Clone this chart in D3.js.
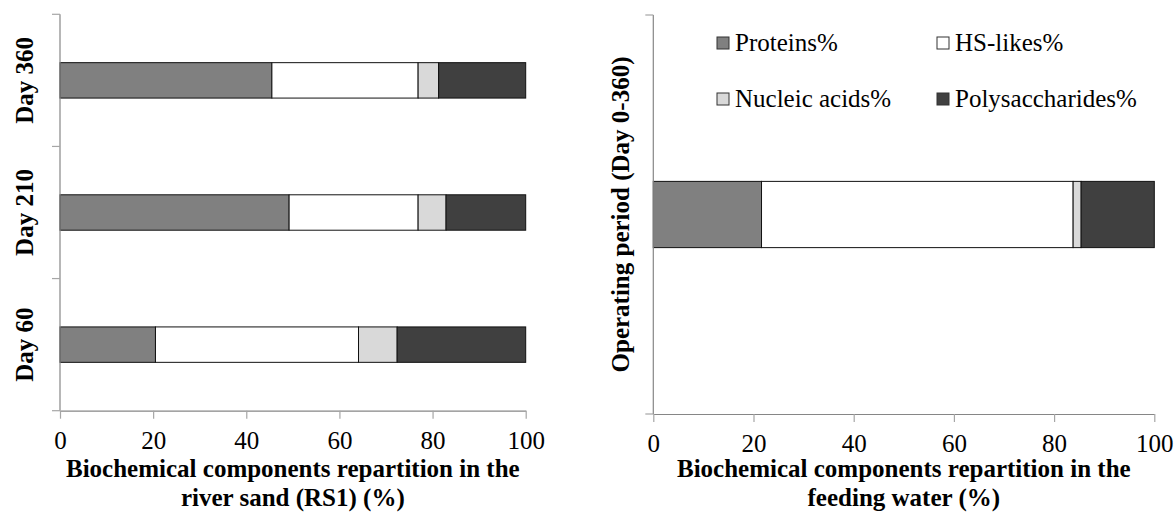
<!DOCTYPE html>
<html>
<head>
<meta charset="utf-8">
<script src="https://cdn.jsdelivr.net/npm/d3@7"></script>
<style>
  html, body { margin: 0; padding: 0; background: #fff; }
  svg { display: block; }
</style>
</head>
<body>
<svg id="chart" width="1176" height="514"></svg>
<script>
// ---- data ----
const seriesNames = ["Proteins%", "HS-likes%", "Nucleic acids%", "Polysaccharides%"];
const categoriesRS = ["Day 360", "Day 210", "Day 60"];
const proteinsRS = [45.5, 49.2, 20.5];
const hsRS = [31.4, 27.7, 43.6];
const nucleicRS = [4.4, 6.0, 8.3];
const polyRS = [18.7, 17.1, 27.6];

const categoriesFW = ["Day 0-360"];
const proteinsFW = [21.6];
const hsFW = [62.2];
const nucleicFW = [1.6];
const polyFW = [14.6];

const xTicks = [0, 20, 40, 60, 80, 100];

// ---- styles ----
const FONT = "'Times New Roman', 'Liberation Serif', 'DejaVu Serif', serif";
const FS = "25px";
const colors = ["#808080", "#ffffff", "#d9d9d9", "#404040"];
const axisColor = "#868686";
const tickColor = "#a6a6a6";

const svg = d3.select("#chart").attr("font-family", FONT);
const keys = seriesNames;

function buildRows(cats, p, h, n, s) {
  return cats.map((c, i) => ({ cat: c, "Proteins%": p[i], "HS-likes%": h[i], "Nucleic acids%": n[i], "Polysaccharides%": s[i] }));
}

function txt(sel) {
  return sel.style("font-family", FONT).style("font-size", FS).attr("fill", "#000");
}

function drawPanel(opts) {
  const { rows, cats, xRange, yRange, barFrac, titleLines, showCats, yTitle, yTitleX } = opts;
  const x = d3.scaleLinear().domain([0, 100]).range(xRange);
  const y = d3.scaleBand().domain(cats).range(yRange).padding(0);
  const bh = y.bandwidth() * barFrac;
  const stacked = d3.stack().keys(keys)(rows);
  const g = svg.append("g");

  // bars
  stacked.forEach((layer, li) => {
    g.append("g").selectAll("rect").data(layer).join("rect")
      .attr("x", d => x(d[0]))
      .attr("y", d => y(d.data.cat) + (y.bandwidth() - bh) / 2)
      .attr("width", d => x(d[1]) - x(d[0]))
      .attr("height", bh)
      .attr("fill", colors[li])
      .attr("stroke", "#111")
      .attr("stroke-width", 1);
  });

  // y axis line + boundary ticks
  const x0 = xRange[0];
  g.append("line").attr("x1", x0).attr("x2", x0)
    .attr("y1", yRange[0]).attr("y2", yRange[1])
    .attr("stroke", axisColor).attr("stroke-width", 1.2);
  const bounds = cats.map(c => y(c)).concat([y(cats[cats.length - 1]) + y.bandwidth()]);
  g.append("g").selectAll("line").data(bounds).join("line")
    .attr("x1", x0 - 8).attr("x2", x0)
    .attr("y1", d => d).attr("y2", d => d)
    .attr("stroke", tickColor).attr("stroke-width", 1.2);

  // x axis
  const ax = g.append("g")
    .attr("transform", `translate(0,${yRange[1]})`)
    .call(d3.axisBottom(x).tickValues(xTicks).tickSize(8).tickSizeOuter(0).tickFormat(d3.format("d")));
  ax.attr("font-family", FONT);
  ax.select(".domain").attr("stroke", axisColor).attr("stroke-width", 1.2);
  ax.selectAll(".tick line").attr("stroke", tickColor).attr("stroke-width", 1.2);
  txt(ax.selectAll(".tick text"))
    .attr("y", 38).attr("dy", null);

  // category labels
  if (showCats) {
    cats.forEach(c => {
      const cy = y(c) + y.bandwidth() / 2;
      txt(g.append("text"))
        .attr("transform", `translate(${33},${cy}) rotate(-90)`)
        .attr("text-anchor", "middle")
        .style("font-weight", "bold")
        .text(c);
    });
  }
  if (yTitle) {
    const cy = (yRange[0] + yRange[1]) / 2;
    txt(g.append("text"))
      .attr("transform", `translate(${yTitleX},${cy}) rotate(-90)`)
      .attr("text-anchor", "middle")
      .style("font-weight", "bold")
      .text(yTitle);
  }

  // x title
  const cx = (xRange[0] + xRange[1]) / 2;
  titleLines.forEach((t, i) => {
    txt(g.append("text"))
      .attr("x", cx).attr("y", 477 + i * 29)
      .attr("text-anchor", "middle")
      .style("font-weight", "bold")
      .text(t);
  });
}

drawPanel({
  rows: buildRows(categoriesRS, proteinsRS, hsRS, nucleicRS, polyRS),
  cats: categoriesRS,
  xRange: [60, 525.7],
  yRange: [14.3, 410.7],
  barFrac: 0.268,
  titleLines: ["Biochemical components repartition in the", "river sand (RS1) (%)"],
  showCats: true
});

drawPanel({
  rows: buildRows(categoriesFW, proteinsFW, hsFW, nucleicFW, polyFW),
  cats: categoriesFW,
  xRange: [653.3, 1154.3],
  yRange: [15, 414],
  barFrac: 0.166,
  titleLines: ["Biochemical components repartition in the", "feeding water (%)"],
  showCats: false,
  yTitle: "Operating period (Day 0-360)",
  yTitleX: 629
});

// legend
const legendPos = [
  { x: 717, y: 43 }, { x: 937, y: 43 },
  { x: 717, y: 99 }, { x: 937, y: 99 }
];
const leg = svg.append("g");
seriesNames.forEach((name, i) => {
  const p = legendPos[i];
  leg.append("rect")
    .attr("x", p.x).attr("y", p.y - 6)
    .attr("width", 12).attr("height", 12)
    .attr("fill", colors[i]).attr("stroke", "#333").attr("stroke-width", 1);
  txt(leg.append("text"))
    .attr("x", p.x + 18).attr("y", p.y + 8)
    .text(name);
});
</script>
</body>
</html>
